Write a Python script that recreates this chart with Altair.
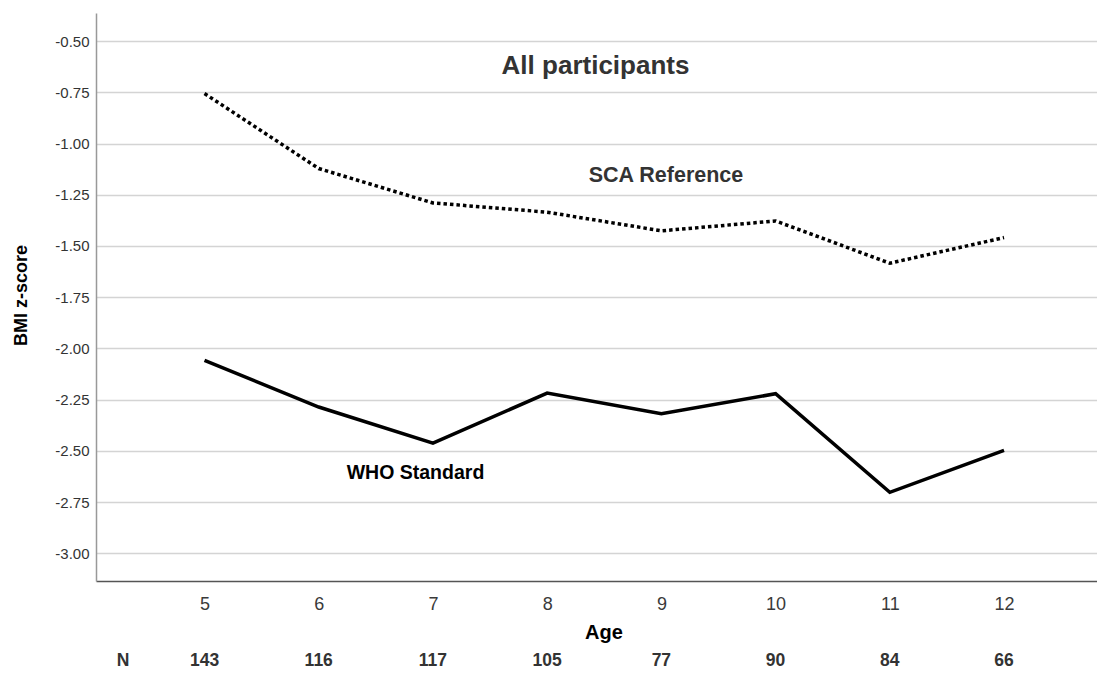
import altair as alt
import pandas as pd

# ---- data ----
ages = [5, 6, 7, 8, 9, 10, 11, 12]
n_counts = [143, 116, 117, 105, 77, 90, 84, 66]
sca_reference = [-0.756, -1.122, -1.290, -1.335, -1.426, -1.378, -1.584, -1.459]
who_standard = [-2.058, -2.286, -2.462, -2.218, -2.319, -2.221, -2.702, -2.497]
y_ticks = [-3.00, -2.75, -2.50, -2.25, -2.00, -1.75, -1.50, -1.25, -1.00, -0.75, -0.50]

df = pd.DataFrame({"age": ages, "n": n_counts, "sca": sca_reference, "who": who_standard})

FONT = "Liberation Sans"

x_scale = alt.Scale(domain=[4.05, 12.814], nice=False, zero=False)
y_scale = alt.Scale(domain=[-3.135, -0.363], nice=False, zero=False)

x_enc = alt.X(
    "age:Q",
    scale=x_scale,
    axis=alt.Axis(
        values=ages, format="d", ticks=False, grid=False, labelFontSize=18,
        labelColor="#3a3a3a", labelPadding=14, domainColor="#555555", domainWidth=1.5,
        title=None, labelFont=FONT,
    ),
)

y_axis = alt.Axis(
    values=y_ticks, ticks=False, grid=True, gridColor="#d4d4d4", gridWidth=1.5,
    labelFontSize=15, labelPadding=7, labelColor="#333333", labelFont=FONT,
    labelExpr="replace(format(datum.value, '.2f'), '\u2212', '-')",
    domainColor="#999999", domainWidth=1.5,
    title="BMI z-score", titleFontSize=18, titleFontWeight="bold", titleColor="#000000",
    titleFont=FONT, titleX=-66, titleY=282,
)

base = alt.Chart(df)

sca_line = base.mark_line(
    color="#000000", strokeWidth=3.5, strokeDash=[3.5, 3], strokeCap="butt"
).encode(x=x_enc, y=alt.Y("sca:Q", scale=y_scale, axis=y_axis))

who_line = base.mark_line(color="#000000", strokeWidth=3.5).encode(
    x=alt.X("age:Q", scale=x_scale), y=alt.Y("who:Q", scale=y_scale)
)

def label(text, x, y, size, color):
    return alt.Chart(pd.DataFrame({"t": [text]})).mark_text(
        font=FONT, fontSize=size, fontWeight="bold", color=color,
        align="center", baseline="middle",
    ).encode(text="t:N", x=alt.value(x), y=alt.value(y))

title_lbl = label("All participants", 499.5, 53, 26, "#333333")
sca_lbl = label("SCA Reference", 570, 163, 21.5, "#333333")
who_lbl = label("WHO Standard", 319.5, 460, 19.5, "#000000")
age_lbl = label("Age", 508, 620, 20, "#000000")
n_lbl = label("N", 27, 648, 17.5, "#333333")

n_row = base.mark_text(
    font=FONT, fontSize=17.5, fontWeight="bold", color="#333333",
    align="center", baseline="middle",
).encode(x=alt.X("age:Q", scale=x_scale), y=alt.value(648), text="n:Q")

chart = alt.layer(
    sca_line, who_line, title_lbl, sca_lbl, who_lbl, age_lbl, n_lbl, n_row
).properties(
    width=1001, height=568,
    padding={"left": 88, "top": 5, "right": 0, "bottom": 89},
    autosize=alt.AutoSizeParams(type="none"),
    background="#ffffff",
).configure_view(stroke=None)

chart.save("out.html", embed_options={"renderer": "svg", "actions": False})
